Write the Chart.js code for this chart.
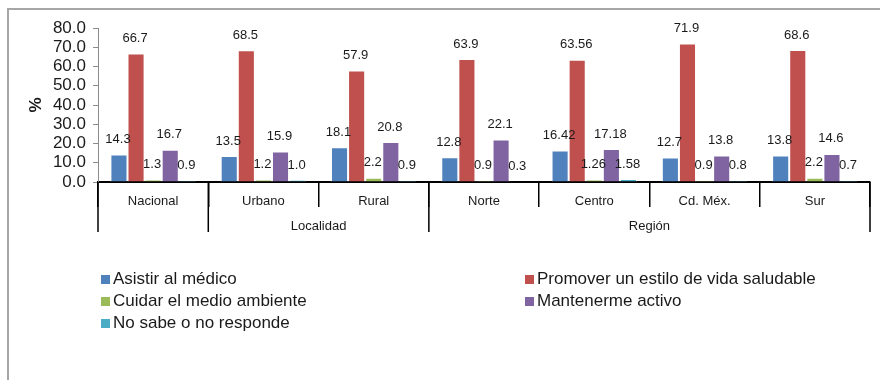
<!DOCTYPE html>
<html>
<head>
<meta charset="utf-8">
<script src="https://cdn.jsdelivr.net/npm/chart.js@4/dist/chart.umd.min.js"></script>
<style>
  body { margin: 0; background: #fff; font-family: "Liberation Sans", Arial, sans-serif; }
  #wrap { position: relative; width: 880px; height: 380px; overflow: hidden; }
  #frame { position: absolute; left: 7px; top: 8px; width: 900px; height: 400px;
           border-left: 2px solid #a6a6a6; border-top: 2px solid #a6a6a6; }
  #chartBox { position: absolute; left: 0; top: 0; width: 880px; height: 380px; }
  #legend { position: absolute; left: 101px; top: 269px; display: grid;
            grid-template-columns: 424px 340px; row-gap: 2px; }
  .item { display: flex; align-items: center; height: 20px; font-size: 17px; color: #1a1a1a; }
  .sq { width: 9px; height: 9px; margin-right: 3px; }
</style>
</head>
<body>
<div id="wrap">
  <div id="frame"></div>
  <div id="chartBox"><canvas id="chart"></canvas></div>
  <div id="legend"></div>
</div>
<script>
const categories = ['Nacional', 'Urbano', 'Rural', 'Norte', 'Centro', 'Cd. Méx.', 'Sur'];
const decimals = [1, 1, 1, 1, 2, 1, 1];
const groupLabels = ['', 'Localidad', 'Región'];
const groupSizes = [1, 2, 4];

const seriesNames = ['Asistir al médico', 'Promover un estilo de vida saludable',
  'Cuidar el medio ambiente', 'Mantenerme activo', 'No sabe o no responde'];
const asistir = [14.3, 13.5, 18.1, 12.8, 16.42, 12.7, 13.8];
const promover = [66.7, 68.5, 57.9, 63.9, 63.56, 71.9, 68.6];
const cuidar = [1.3, 1.2, 2.2, 0.9, 1.26, 0.9, 2.2];
const mantenerme = [16.7, 15.9, 20.8, 22.1, 17.18, 13.8, 14.6];
const noSabe = [0.9, 1.0, 0.9, 0.3, 1.58, 0.8, 0.7];
const seriesColors = ['#4f81bd', '#c0504d', '#9bbb59', '#8064a2', '#4bacc6'];

const yMax = 80;
const yStep = 10;

const seriesData = [asistir, promover, cuidar, mantenerme, noSabe];

const valueLabels = {
    id: 'valueLabels',
    afterDatasetsDraw(chart) {
        const ctx = chart.ctx;
        ctx.save();
        ctx.font = '13px "Liberation Sans", Arial, sans-serif';
        ctx.fillStyle = '#1a1a1a';
        ctx.textAlign = 'center';
        ctx.textBaseline = 'middle';
        chart.data.datasets.forEach((ds, i) => {
            chart.getDatasetMeta(i).data.forEach((bar, j) => {
                ctx.fillText(ds.data[j].toFixed(decimals[j]), bar.x - 1, bar.y - 15);
            });
        });
        ctx.restore();
    }
};

const groupAxis = {
    id: 'groupAxis',
    afterDraw(chart) {
        const x = chart.scales.x;
        const ctx = chart.ctx;
        const half = (x.getPixelForValue(1) - x.getPixelForValue(0)) / 2;
        const top = x.top;
        const bottom = x.bottom;
        ctx.save();
        ctx.strokeStyle = '#000';
        ctx.lineWidth = 1.5;
        ctx.fillStyle = '#1a1a1a';
        ctx.font = '13px "Liberation Sans", Arial, sans-serif';
        ctx.textAlign = 'center';
        ctx.textBaseline = 'middle';
        let idx = 0;
        groupSizes.forEach((size, g) => {
            const left = x.getPixelForValue(idx) - half;
            const right = x.getPixelForValue(idx + size - 1) + half;
            ctx.beginPath();
            ctx.moveTo(left, top);
            ctx.lineTo(left, bottom);
            if (g === groupSizes.length - 1) {
                ctx.moveTo(right, top);
                ctx.lineTo(right, bottom);
            }
            ctx.stroke();
            if (groupLabels[g]) {
                ctx.fillText(groupLabels[g], (left + right) / 2, bottom - 6);
            }
            idx += size;
        });
        ctx.restore();
    }
};

const chart = new Chart(document.getElementById('chart'), {
    type: 'bar',
    data: {
        labels: categories,
        datasets: seriesNames.map((name, i) => ({
            label: name,
            data: seriesData[i],
            backgroundColor: seriesColors[i],
            borderColor: 'rgba(255,255,255,0.7)',
            borderWidth: 1,
            barPercentage: 1,
            categoryPercentage: 0.775
        }))
    },
    options: {
        responsive: true,
        maintainAspectRatio: false,
        animation: false,
        layout: { padding: { left: 0, top: 28, right: 10, bottom: 148 } },
        plugins: {
            legend: { display: false },
            tooltip: { enabled: false }
        },
        scales: {
            x: {
                grid: {
                    offset: true,
                    drawOnChartArea: false,
                    drawTicks: true,
                    tickLength: 25,
                    color: '#000',
                    lineWidth: 1.5
                },
                border: { color: '#000', width: 2 },
                ticks: {
                    padding: -13,
                    color: '#1a1a1a',
                    font: { size: 13, family: '"Liberation Sans", Arial, sans-serif' }
                },
                afterFit(scale) { scale.height = 50; }
            },
            y: {
                min: 0,
                max: yMax,
                grid: {
                    drawOnChartArea: false,
                    drawTicks: true,
                    tickLength: 5,
                    color: '#8c8c8c'
                },
                border: { color: '#8c8c8c', width: 1 },
                ticks: {
                    stepSize: yStep,
                    autoSkip: false,
                    padding: 7,
                    color: '#1a1a1a',
                    font: { size: 17, family: '"Liberation Sans", Arial, sans-serif' },
                    callback: v => v.toFixed(1)
                },
                title: {
                    display: true,
                    text: '%',
                    color: '#1a1a1a',
                    font: { size: 17, weight: 'bold', family: '"Liberation Sans", Arial, sans-serif' },
                    padding: { top: 26, bottom: 0 }
                },
                afterFit(scale) { scale.width = 98; }
            }
        }
    },
    plugins: [valueLabels, groupAxis]
});

const legendEl = document.getElementById('legend');
chart.data.datasets.forEach(ds => {
    const item = document.createElement('div');
    item.className = 'item';
    const sq = document.createElement('span');
    sq.className = 'sq';
    sq.style.background = ds.backgroundColor;
    const txt = document.createElement('span');
    txt.textContent = ds.label;
    item.appendChild(sq);
    item.appendChild(txt);
    legendEl.appendChild(item);
});
</script>
</body>
</html>
